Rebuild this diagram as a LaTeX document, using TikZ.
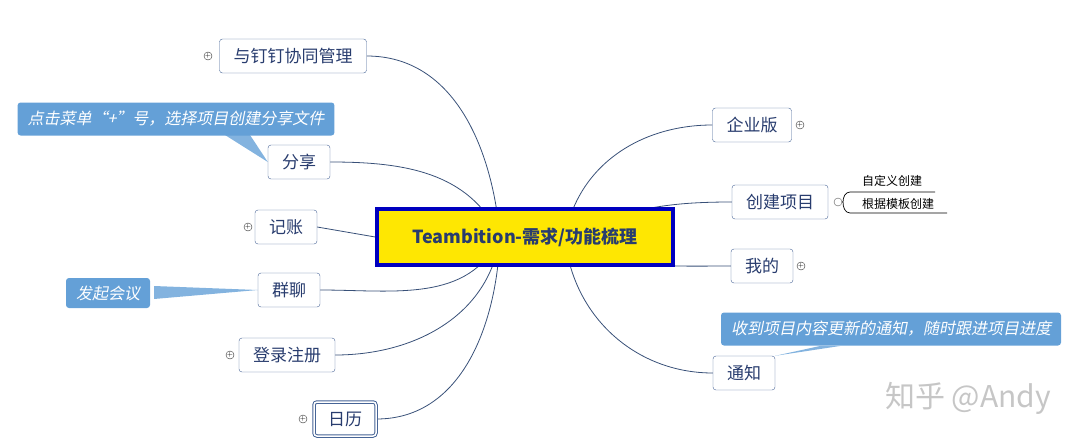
\documentclass[tikz,border=0pt]{standalone}
\usepackage{fontspec}
\newfontfamily\cjk{Noto Sans CJK SC}
\newfontfamily\cjknote[FakeSlant=0.2]{Noto Sans CJK SC}
\usetikzlibrary{backgrounds}
\definecolor{edgeblue}{RGB}{70,100,150}
\definecolor{noteblue}{RGB}{100,160,215}
\definecolor{textblue}{RGB}{40,60,110}
\tikzset{
	topic/.style={draw=edgeblue, rounded corners=3pt, fill=white, minimum height=34pt, inner xsep=14pt, font=\cjk\fontsize{17}{17}\selectfont, text=textblue}, % every branch box
	note/.style={fill=noteblue, rounded corners=3pt, minimum height=33pt, inner xsep=10pt, font=\cjknote\fontsize{16}{16}\selectfont, text=white},
	branch/.style={draw=edgeblue!80!black, line width=0.8pt},
	tail/.style={fill=noteblue!80, draw=none},
	plus/.style={circle, draw=black!80, inner sep=0pt, minimum size=7pt, font=\fontsize{7}{7}\selectfont, text=black},
	leaf/.style={font=\cjk\fontsize{12}{12}\selectfont, inner sep=1pt},
}
\begin{document}
\begin{tikzpicture}[x=1pt, y=-1pt]
	\useasboundingbox (0,0) rectangle (1088,447);
	% central topic
	\node[draw=blue!75!black, line width=3.5pt, fill=yellow!90!orange, minimum width=296pt, minimum height=56pt, font=\cjk\bfseries\fontsize{18}{18}\selectfont, text=textblue] (c) at (525,237) {Teambition-需求/功能梳理};
	% left side
	\node[topic] (dd) at (293,56) {与钉钉协同管理};
	\node[plus] (ddp) at (208,56) {+};
	\node[topic] (fx) at (299,162) {分享};
	\node[topic] (jz) at (286,227) {记账};
	\node[plus] (jzp) at (248,227) {+};
	\node[topic] (ql) at (289,290) {群聊};
	\node[topic] (dl) at (287,355) {登录注册};
	\node[plus] (dlp) at (230,355) {+};
	\node[topic, double=white, double distance=1.5pt, line width=1pt, minimum height=34pt] (rl) at (345,419) {日历};
	\node[plus] (rlp) at (303,419) {+};
	% right side
	\node[topic] (qy) at (752,125) {企业版};
	\node[plus] (qyp) at (800,125) {+};
	\node[topic] (cj) at (780,202) {创建项目};
	\node[circle, draw=gray!70!black, minimum size=8pt, inner sep=0pt] (cjp) at (838,202) {};
	\node[topic] (wd) at (762,266) {我的};
	\node[plus] (wdp) at (801,266) {+};
	\node[topic] (tz) at (744,373) {通知};
	% leaves of 创建项目
	\node[leaf] (zd) at (892,181) {自定义创建};
	\node[leaf] (mb) at (898,204) {根据模板创建};
	% notes
	\node[note] (n1) at (176,119) {点击菜单“+”号，选择项目创建分享文件};
	\node[note, minimum height=30pt] (n2) at (108,293) {发起会议};
	\node[note] (n3) at (891,329) {收到项目内容更新的通知，随时跟进项目进度};
	% watermark
	\node[font=\cjk\fontsize{30}{30}\selectfont, text=gray!45] (wm) at (968,398) {知乎 @Andy};
	\begin{scope}[on background layer]
		\coordinate (cl) at (500,237);
		\coordinate (cr) at (565,237);
		\draw[branch] (cl) to[out=95, in=0] (dd.east);
		\draw[branch] (cl) to[out=115, in=0] (fx.east);
		\draw[branch] (jz.east) -- (c.west);
		\draw[branch] (cl) to[out=245, in=0] (ql.east);
		\draw[branch] (cl) to[out=262, in=0] (dl.east);
		\draw[branch] (cl) to[out=268, in=0] (rl.east);
		\draw[branch] (cr) to[out=80, in=180] (qy.west);
		\draw[branch] (cr) to[out=25, in=180] (cj.west);
		\draw[branch] (cr) to[out=-30, in=180] (wd.west);
		\draw[branch] (cr) to[out=-85, in=180] (tz.west);
		% bracket to leaves
		\draw[line width=0.7pt] (cjp.east) -- (843,202) to[out=90, in=180] (850,192) -- (935,192);
		\draw[line width=0.7pt] (843,202) to[out=-90, in=180] (850,213) -- (947,213);
		% callout tails
		\fill[tail] (225,135) -- (250,135) -- (fx.west);
		\fill[tail] (154,286) -- (154,299) -- (ql.west);
		\fill[tail] (820,346) -- (840,346) -- (tz.north east);
	\end{scope}
\end{tikzpicture}
\end{document}
